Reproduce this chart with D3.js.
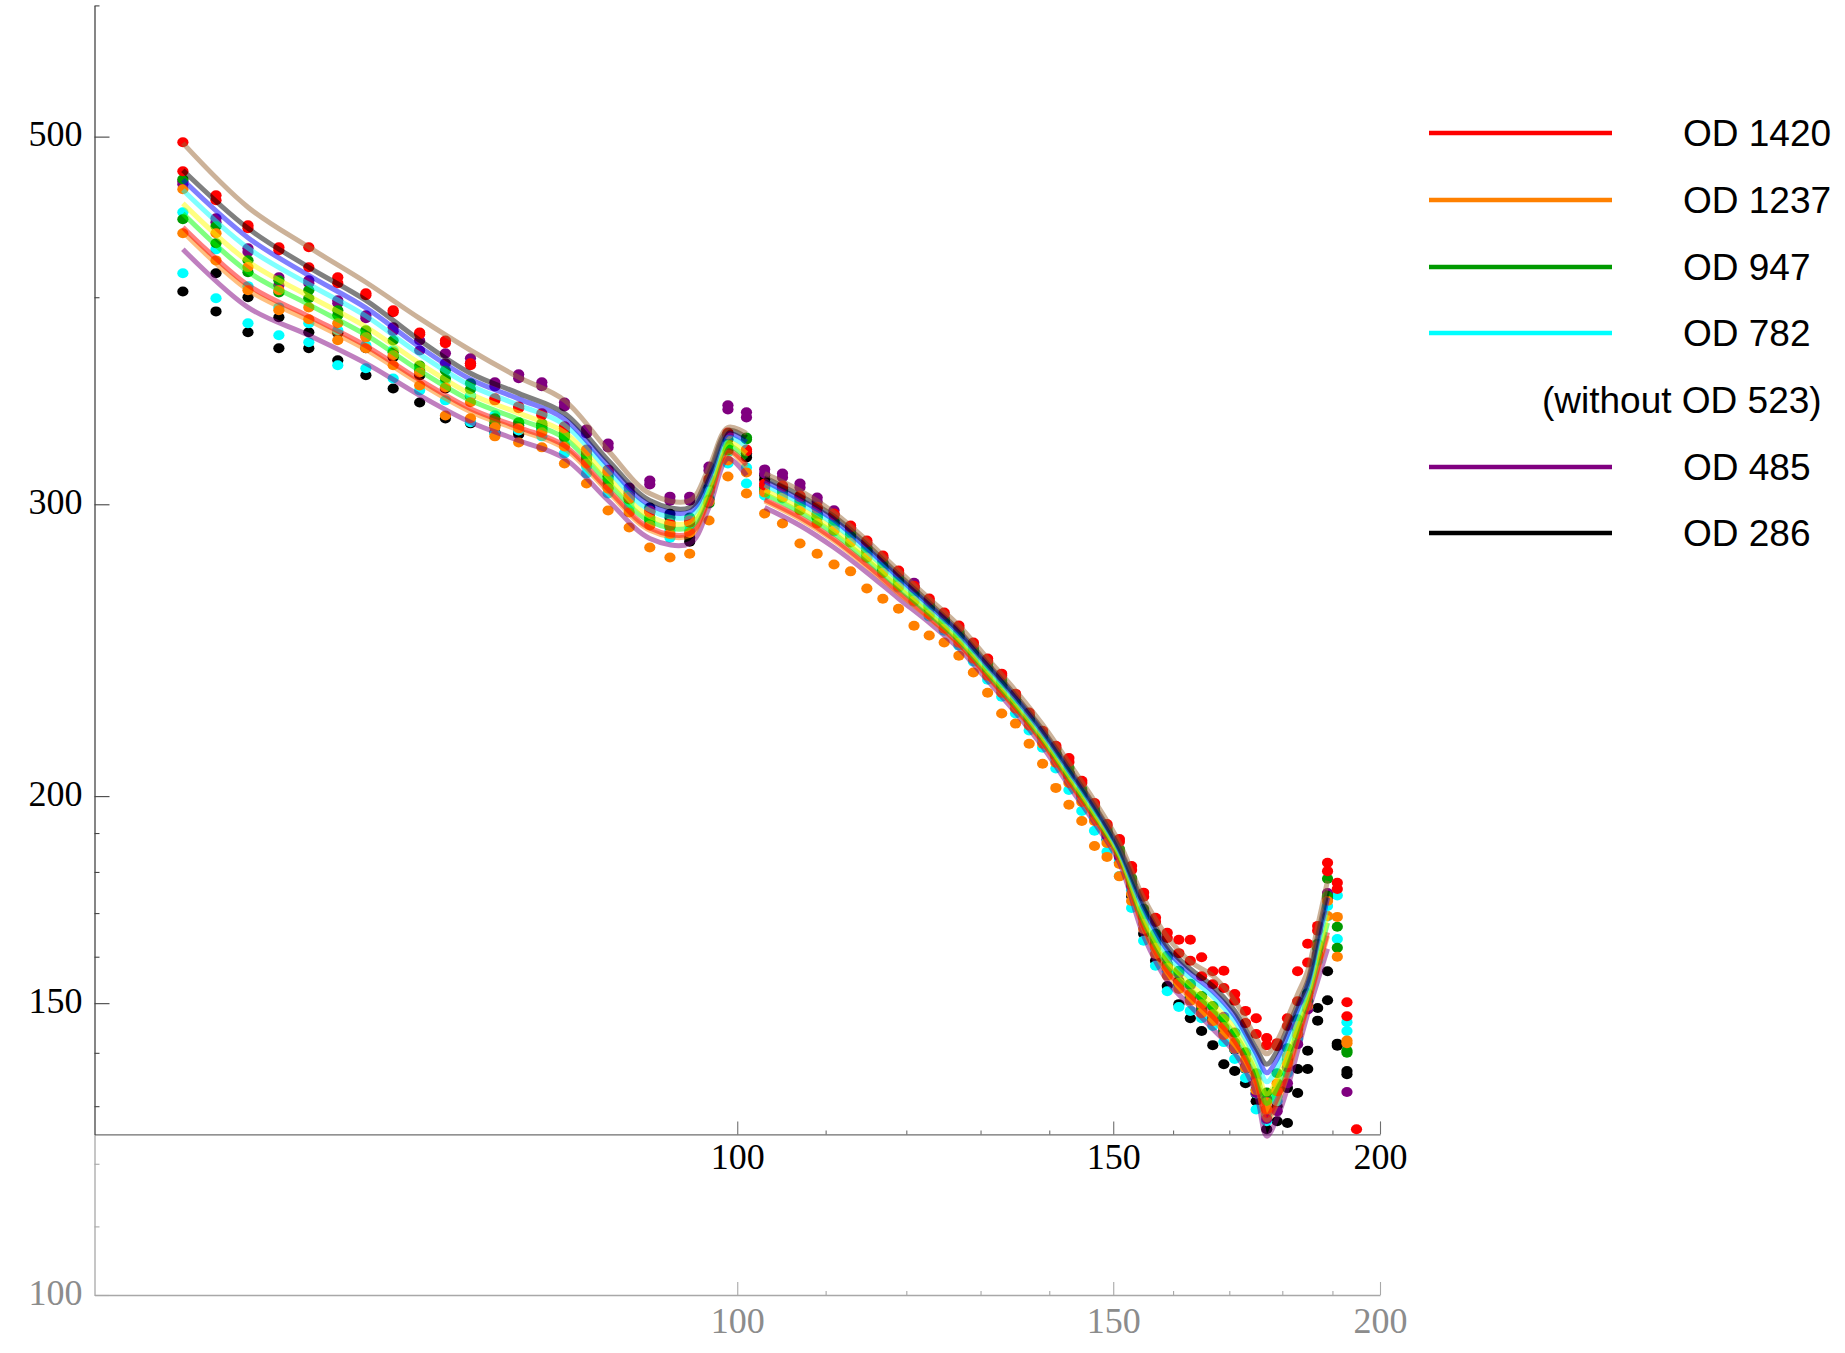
<!DOCTYPE html>
<html>
<head>
<meta charset="utf-8">
<script src="https://cdn.jsdelivr.net/npm/d3@7"></script>
<style>
body { margin: 0; background: #fff; }
</style>
</head>
<body>
<div id="chart-area"></div>
<script>
// measured points, x = 55..195 step 2
var pointX = [55,57,59,61,63,65,67,69,71,73,75,77,79,81,83,85,87,89,91,93,95,97,99,101,
	103,105,107,109,111,113,115,117,119,121,123,125,127,129,131,133,135,137,139,141,143,145,147,149,151,
	153,155,157,159,161,163,165,167,169,171,173,175,177,179,181,183,185,187,189,191,193,195];

var redA = [496.1,460.9,442.1,428.7,428.8,411.3,402.2,392.8,380.9,376.7,364.9,347.6,343.7,340.4,334.3,323.7,314.8,303.3,297.4,292.1,293.3,310.9,331.5,323.7,
	308.8,307.9,303.7,299.0,296.2,291.3,285.3,279.4,273.6,267.9,263.2,258.1,253.5,247.6,242.1,237.1,230.6,224.6,219.0,214.5,210.9,204.3,198.1,192.4,188.4,
	181.5,174.9,168.9,165.4,163.8,163.8,159.9,156.8,156.9,151.9,148.4,146.9,142.9,141.9,146.9,156.8,162.9,167.0,182.3,177.3,150.2,125.9];
var redB = [476.5,457.7,440.3,427.0,417.0,407.9,401.1,391.7,379.9,375.2,363.9,346.6,342.8,339.5,333.4,322.8,314.0,302.4,296.6,291.2,292.4,310.1,330.6,322.8,
	308.0,307.1,302.9,298.2,295.4,290.5,284.5,278.6,272.9,267.2,262.4,257.4,252.8,246.9,241.4,236.4,230.0,224.0,218.4,213.9,209.7,203.7,197.6,191.9,187.7,
	180.5,173.9,167.9,164.2,160.8,159.1,155.7,154.0,153.2,150.5,145.9,143.7,141.5,141.3,145.3,150.4,158.7,165.9,180.2,175.8,147.3,null];
var orangeA = [464.7,437.2,417.1,403.9,394.4,385.8,378.3,369.0,360.3,352.9,345.7,333.9,333.4,331.6,325.1,317.5,306.6,296.6,291.3,288.0,288.4,301.1,318.8,313.6,
	305.0,302.8,297.4,292.1,289.3,284.5,278.6,272.8,267.6,262.4,257.4,252.4,247.5,242.1,236.4,230.9,225.9,220.6,215.1,209.5,203.7,198.4,193.2,187.4,182.0,
	174.6,167.5,162.0,157.5,154.3,151.9,149.8,147.7,145.1,142.0,138.6,134.2,130.7,134.2,139.4,145.3,151.5,162.4,172.9,169.1,142.4,null];
var orangeB = [437.2,421.0,403.9,392.8,387.9,376.8,372.6,363.9,353.8,339.4,338.1,329.7,326.9,324.7,317.5,308.8,297.4,290.5,282.5,278.6,280.1,293.3,311.8,304.5,
	296.2,292.1,284.1,280.1,275.9,273.3,266.9,263.1,259.5,253.4,250.0,247.6,243.1,237.5,230.9,224.3,221.2,215.1,209.2,202.3,197.6,193.2,186.6,183.8,178.9,
	172.9,166.3,160.6,155.8,153.0,150.5,147.9,146.3,143.5,140.8,137.1,132.9,129.4,132.7,138.0,143.7,149.4,160.2,169.3,160.0,141.9,null];
var greenA = [471.3,441.5,421.1,409.5,403.9,392.8,382.0,376.7,363.8,361.3,354.9,338.1,336.2,335.7,331.1,321.0,310.5,303.7,294.5,292.4,294.5,300.3,323.3,328.3,
	307.1,306.2,301.6,295.7,293.4,288.1,282.1,276.6,270.6,266.1,260.6,256.0,251.4,245.5,240.4,234.8,229.4,223.7,218.7,213.3,208.0,202.0,196.5,191.1,185.8,
	178.5,171.0,165.2,160.2,156.9,154.1,151.5,149.4,146.8,143.9,140.1,136.1,132.5,136.1,140.9,146.7,152.1,162.9,178.3,166.8,140.4,null];
var greenB = [445.8,431.2,414.1,402.7,399.4,390.1,379.4,370.5,361.3,357.3,352.0,336.2,334.8,333.8,329.2,319.2,308.8,302.0,293.3,290.8,292.8,302.0,325.6,329.2,
	305.4,304.5,299.9,294.5,291.8,286.9,280.6,275.1,269.5,264.6,259.5,254.9,249.9,244.2,238.7,233.5,228.1,222.7,217.8,212.1,206.8,200.9,195.7,190.0,184.8,
	177.0,169.3,163.3,158.0,154.0,151.3,148.5,146.5,144.1,140.9,137.2,133.0,129.5,133.1,138.6,144.7,150.5,162.0,174.1,162.0,140.0,null];
var cyanA = [450.1,427.5,406.2,394.4,385.8,382.1,374.1,371.6,362.3,356.3,349.1,339.5,335.7,332.9,326.0,316.2,307.0,300.8,293.9,289.2,291.6,305.4,322.4,315.7,
	306.2,304.1,300.4,294.1,290.9,286.5,280.2,274.7,269.1,264.2,259.2,253.9,248.9,243.1,237.8,232.5,227.1,221.8,216.3,210.7,205.1,199.5,194.3,188.4,183.0,
	175.5,167.9,161.9,156.8,153.4,150.9,148.7,146.6,143.9,140.7,137.0,132.3,128.5,131.8,137.1,143.8,150.6,161.9,171.7,174.2,146.1,null];
var cyanB = [413.5,399.4,385.8,379.4,375.7,363.9,362.4,357.3,351.4,346.6,336.2,331.1,332.4,329.7,322.0,313.1,304.5,298.7,292.1,286.4,289.2,302.8,317.5,308.8,
	303.7,302.4,297.8,292.4,288.9,284.9,278.4,272.6,267.2,262.0,256.7,251.7,246.5,241.1,235.1,229.6,224.3,219.1,213.9,207.8,201.7,195.9,190.6,185.1,179.0,
	171.2,163.6,158.0,152.5,149.2,148.4,146.9,145.3,142.1,138.8,135.2,129.4,127.3,130.9,136.1,142.7,148.8,159.1,169.2,164.0,144.3,null];
var purpleA = [469.9,446.4,428.2,411.2,409.5,398.3,390.1,383.6,376.7,370.0,367.5,355.4,359.4,355.4,345.6,332.9,326.4,307.1,310.1,303.2,303.2,316.2,344.2,340.9,
	314.9,313.1,308.8,302.8,297.5,290.5,283.7,278.6,273.2,269.0,261.7,255.9,251.0,245.2,239.4,234.1,228.7,223.4,218.3,212.4,206.6,201.2,195.9,190.3,184.9,
	177.5,170.3,164.7,159.7,156.4,153.8,151.4,149.3,147.2,144.0,139.9,135.1,131.3,132.8,137.2,143.6,150.4,162.3,174.8,null,132.6,null];
var purpleB = [468.0,443.9,425.9,406.7,407.8,396.7,388.5,381.5,371.5,364.9,364.9,353.4,357.4,353.5,343.7,331.0,324.6,305.4,308.4,301.5,301.5,314.4,342.2,338.5,
	313.1,311.4,307.1,301.1,295.8,289.3,282.5,277.0,271.7,267.5,260.6,254.8,249.8,244.1,238.4,233.1,227.8,222.4,217.5,211.5,205.7,200.4,195.1,189.2,183.8,
	176.5,168.9,162.9,157.4,154.1,151.2,148.9,146.9,144.7,141.4,137.4,132.4,127.7,129.1,134.2,141.7,148.7,160.6,173.4,null,null,null];
var blackA = [null,413.5,400.0,389.0,381.0,380.5,372.6,368.0,358.8,352.4,348.6,334.8,332.0,334.8,331.5,321.5,313.5,304.5,298.7,296.1,286.4,307.1,330.1,322.0,
	312.3,307.5,300.4,296.1,292.1,287.7,281.3,274.5,269.8,267.2,261.0,255.6,250.7,244.8,239.1,233.4,228.8,223.3,217.7,212.0,206.5,200.8,195.6,189.9,184.3,
	176.9,169.2,163.6,158.4,154.7,151.8,149.4,147.0,144.2,140.6,136.9,132.2,128.4,130.0,133.3,136.9,140.4,149.0,156.8,141.8,136.5,null];
var blackB = [403.2,392.2,381.0,372.6,372.6,366.5,358.9,352.4,345.6,338.0,335.7,331.5,330.6,332.9,329.7,319.2,311.8,302.9,297.0,294.5,284.8,305.4,328.3,320.2,
	310.5,306.2,299.1,294.5,290.7,286.3,279.8,273.6,268.7,265.7,259.9,254.6,249.6,243.8,238.1,232.3,227.6,222.3,216.9,211.2,205.4,199.8,194.6,188.3,182.3,
	174.1,165.2,159.1,153.6,149.8,146.9,144.3,141.5,137.8,136.5,134.2,130.9,125.9,127.3,127.0,132.4,136.9,146.4,150.6,141.4,135.9,null];

// fitted curves, two pieces (below and above x = 102)
var lineX = [55,59,63,67,71,75,79,83,87,91,95,97,99,101,
	103,107,111,115,119,123,127,131,135,139,143,147,151,155,159,163,167,171,175,177,179,181,183,185,187,189];

var fitBrown = [495.5,453.3,428.8,408.4,388.4,371.6,357.9,346.6,323.3,304.5,301.6,315.8,333.8,331.1,
	313.1,305.8,296.6,285.3,273.6,263.2,253.5,242.1,231.6,220.9,209.5,198.7,187.5,173.6,164.5,158.9,155.8,150.5,142.9,139.8,142.4,146.9,151.9,156.9,167.0,177.8];
var fitBlack = [477.2,440.2,417.0,398.3,376.8,359.9,350.0,340.4,318.9,301.6,298.7,313.1,332.4,329.2,
	311.4,303.7,295.0,283.7,272.1,261.7,251.7,240.4,230.0,219.3,208.0,197.3,186.1,172.2,162.4,157.3,153.6,148.4,140.9,137.8,140.4,144.9,149.8,154.7,164.7,175.4];
var fitBlue = [470.9,434.5,412.3,394.1,373.3,356.9,347.3,337.8,316.7,299.7,296.9,311.3,330.9,327.1,
	309.9,302.0,293.5,282.3,271.0,260.8,250.9,239.8,229.3,218.7,207.4,196.8,185.7,171.3,161.5,156.4,152.5,147.4,139.9,136.2,138.8,143.5,148.7,153.9,163.5,173.7];
var fitCyan = [464.3,428.3,407.3,389.7,369.6,353.8,344.3,335.1,314.5,297.6,295.0,309.5,329.2,324.9,
	308.2,300.6,291.8,281.0,269.9,259.9,250.1,239.0,228.6,218.0,206.8,196.2,185.2,170.3,160.5,155.3,151.4,146.3,138.7,134.5,137.1,142.0,147.4,153.0,162.2,171.9];
var fitYellow = [455.7,420.4,400.7,383.9,364.9,349.7,340.5,331.6,311.5,295.0,292.5,307.0,327.0,322.0,
	306.0,298.5,289.7,279.1,268.3,258.7,249.0,238.1,227.7,217.2,205.9,195.4,184.5,169.0,159.2,154.0,149.8,144.8,137.2,132.2,135.0,140.0,145.8,151.8,160.5,169.5];
var fitGreen = [449.3,414.4,395.9,379.6,361.2,346.6,337.6,328.9,309.2,293.0,290.6,305.1,325.4,319.7,
	304.3,296.8,288.1,277.7,267.2,257.7,248.3,237.3,226.9,216.5,205.2,194.8,184.0,168.0,158.2,152.9,148.7,143.7,136.1,130.5,133.4,138.4,144.6,150.9,159.1,167.7];
var fitRed = [440.9,406.8,389.5,373.9,356.6,342.6,333.9,325.4,306.3,290.3,288.1,302.6,323.2,316.9,
	302.0,294.7,285.9,275.8,265.6,256.5,247.2,236.3,226.1,215.7,204.3,194.0,183.4,166.8,156.9,151.6,147.2,142.3,134.6,128.3,131.3,136.5,143.0,149.7,157.5,165.5];
var fitOrange = [438.1,404.1,387.4,372.0,355.0,341.2,332.6,324.2,305.3,289.4,287.3,301.8,322.5,315.9,
	301.4,293.9,285.2,275.2,265.1,256.1,246.9,236.0,225.7,215.3,204.0,193.7,183.2,166.3,156.4,151.1,146.7,141.8,134.1,127.5,130.5,135.8,142.4,149.3,156.9,164.7];
var fitPurple = [427.6,394.4,379.4,364.9,349.0,336.2,327.8,319.7,301.6,286.1,284.1,298.7,319.7,312.3,
	298.7,291.3,282.5,272.9,263.2,254.5,245.5,234.8,224.6,214.2,202.9,192.7,182.3,164.7,154.7,149.4,144.7,140.0,132.2,124.7,127.9,133.3,140.4,147.8,154.7,161.8];

// ticks
var xMajor = [100,150,200];
var xMinor = [110,120,130,140,160,170,180,190];
var yMajor = [500,300,200,150];
var yMinor = [600,400,190,180,170,160,140,130];
var yLowMajor = [100];
var yLowMinor = [120,110];

var legendLabels = ["OD 1420","OD 1237","OD 947","OD 782","OD 485","OD 286"];
var legendNote = "(without OD 523)";

var W = 1845, H = 1353;
var cRed = "#ff0000", cOrange = "#ff8000", cGreen = "#009a00", cCyan = "#00ffff", cPurple = "#800080", cBlack = "#000000";

var svg = d3.select("#chart-area")
	.append("svg")
		.attr("width", W)
		.attr("height", H)
		.style("background", "#fff");

var x = d3.scaleLog().domain([50,200]).range([94.5,1380]);
var y = d3.scaleLog().domain([100,600]).range([1295,5.4]);
var yTop = y.copy().domain([125,600]).range([y(125), y(600)]);
var yLow = y.copy().domain([100,125]).range([y(100), y(125)]);

// ---- axes ----
function styleAxis(g, lineCol, textCol) {
	g.attr("font-family", "'Liberation Serif', 'Times New Roman', serif")
		.attr("font-size", 36);
	g.selectAll("path.domain").attr("stroke", lineCol).attr("stroke-width", 1.3);
	g.selectAll(".tick line").attr("stroke", lineCol).attr("stroke-width", 1.1);
	g.selectAll(".tick text").attr("fill", textCol);
}

function xAxes(yPos, lineCol, textCol, pad) {
	var gMaj = svg.append("g")
		.attr("transform", "translate(0," + yPos + ")")
		.call(d3.axisBottom(x).tickValues(xMajor).tickSize(-13).tickSizeOuter(0)
			.tickPadding(pad).tickFormat(d3.format("d")));
	styleAxis(gMaj, lineCol, textCol);
	var gMin = svg.append("g")
		.attr("transform", "translate(0," + yPos + ")")
		.call(d3.axisBottom(x).tickValues(xMinor).tickSize(-4).tickSizeOuter(0).tickFormat(""));
	styleAxis(gMin, lineCol, textCol);
	gMin.select("path.domain").remove();
}

function yAxes(scale, major, minor, lineCol, textCol) {
	var gMaj = svg.append("g")
		.attr("transform", "translate(94.5,0)")
		.call(d3.axisLeft(scale).tickValues(major).tickSize(-15).tickSizeOuter(0)
			.tickPadding(12).tickFormat(d3.format("d")));
	styleAxis(gMaj, lineCol, textCol);
	gMaj.selectAll(".tick text").attr("dy", "0.26em");
	var gMin = svg.append("g")
		.attr("transform", "translate(94.5,0)")
		.call(d3.axisLeft(scale).tickValues(minor).tickSize(-5).tickSizeOuter(0).tickFormat(""));
	styleAxis(gMin, lineCol, textCol);
	gMin.select("path.domain").remove();
}

// lower grey frame first, then the black one above it
xAxes(y(100), "#a8a8a8", "#8c8c8c", 12);
yAxes(yLow, yLowMajor, yLowMinor, "#a8a8a8", "#8c8c8c");
xAxes(y(125), "#6e6e6e", "#000", 9.5);
yAxes(yTop, yMajor, yMinor, "#444", "#000");

// ---- points ----
var pointSeries = [
	{ v: blackB, c: cBlack }, { v: blackA, c: cBlack },
	{ v: cyanB, c: cCyan }, { v: cyanA, c: cCyan },
	{ v: purpleB, c: cPurple }, { v: purpleA, c: cPurple },
	{ v: greenB, c: cGreen }, { v: greenA, c: cGreen },
	{ v: orangeB, c: cOrange }, { v: orangeA, c: cOrange },
	{ v: redB, c: cRed }, { v: redA, c: cRed }
];

var gPts = svg.append("g");
pointSeries.forEach(function(s) {
	var pts = pointX.map(function(xv, i) { return { x: xv, v: s.v[i] }; })
		.filter(function(d) { return d.v != null; });
	gPts.selectAll(null)
		.data(pts)
		.enter()
		.append("ellipse")
			.attr("cx", function(d) { return x(d.x); })
			.attr("cy", function(d) { return y(d.v); })
			.attr("rx", 5.6)
			.attr("ry", 5.0)
			.attr("fill", s.c);
});

// ---- fitted curves (half transparent, drawn over the points) ----
var fits = [
	{ v: fitPurple, c: "#800080" },
	{ v: fitOrange, c: "#ff8000" },
	{ v: fitRed, c: "#ff0000" },
	{ v: fitGreen, c: "#00ff00" },
	{ v: fitYellow, c: "#ffff00" },
	{ v: fitCyan, c: "#00ffff" },
	{ v: fitBlue, c: "#0000ff" },
	{ v: fitBlack, c: "#000000" },
	{ v: fitBrown, c: "#996633" }
];

var line = d3.line()
	.x(function(d) { return x(d.x); })
	.y(function(d) { return y(d.v); })
	.curve(d3.curveCatmullRom.alpha(0.5));

var gFits = svg.append("g");
fits.forEach(function(f) {
	var pts = lineX.map(function(xv, i) { return { x: xv, v: f.v[i] }; });
	var pieces = [
		pts.filter(function(d) { return d.x < 102; }),
		pts.filter(function(d) { return d.x > 102; })
	];
	pieces.forEach(function(p) {
		gFits.append("path")
			.attr("d", line(p))
			.attr("fill", "none")
			.attr("stroke", f.c)
			.attr("stroke-opacity", 0.5)
			.attr("stroke-width", 5)
			.attr("stroke-linejoin", "round");
	});
});

// ---- legend ----
var legendColors = [cRed, cOrange, cGreen, cCyan, cPurple, cBlack];
var legendY = [133, 200, 267, 333, 467, 533];
var gLeg = svg.append("g")
	.attr("font-family", "'Liberation Sans', Arial, sans-serif")
	.attr("font-size", 37);

legendLabels.forEach(function(lab, i) {
	gLeg.append("line")
		.attr("x1", 1429).attr("x2", 1612)
		.attr("y1", legendY[i]).attr("y2", legendY[i])
		.attr("stroke", legendColors[i])
		.attr("stroke-width", 4.5);
	gLeg.append("text")
		.attr("x", 1683)
		.attr("y", legendY[i] + 13)
		.attr("fill", "#000")
		.text(lab);
});
gLeg.append("text")
	.attr("x", 1542)
	.attr("y", 413)
	.attr("fill", "#000")
	.text(legendNote);
</script>
</body>
</html>
